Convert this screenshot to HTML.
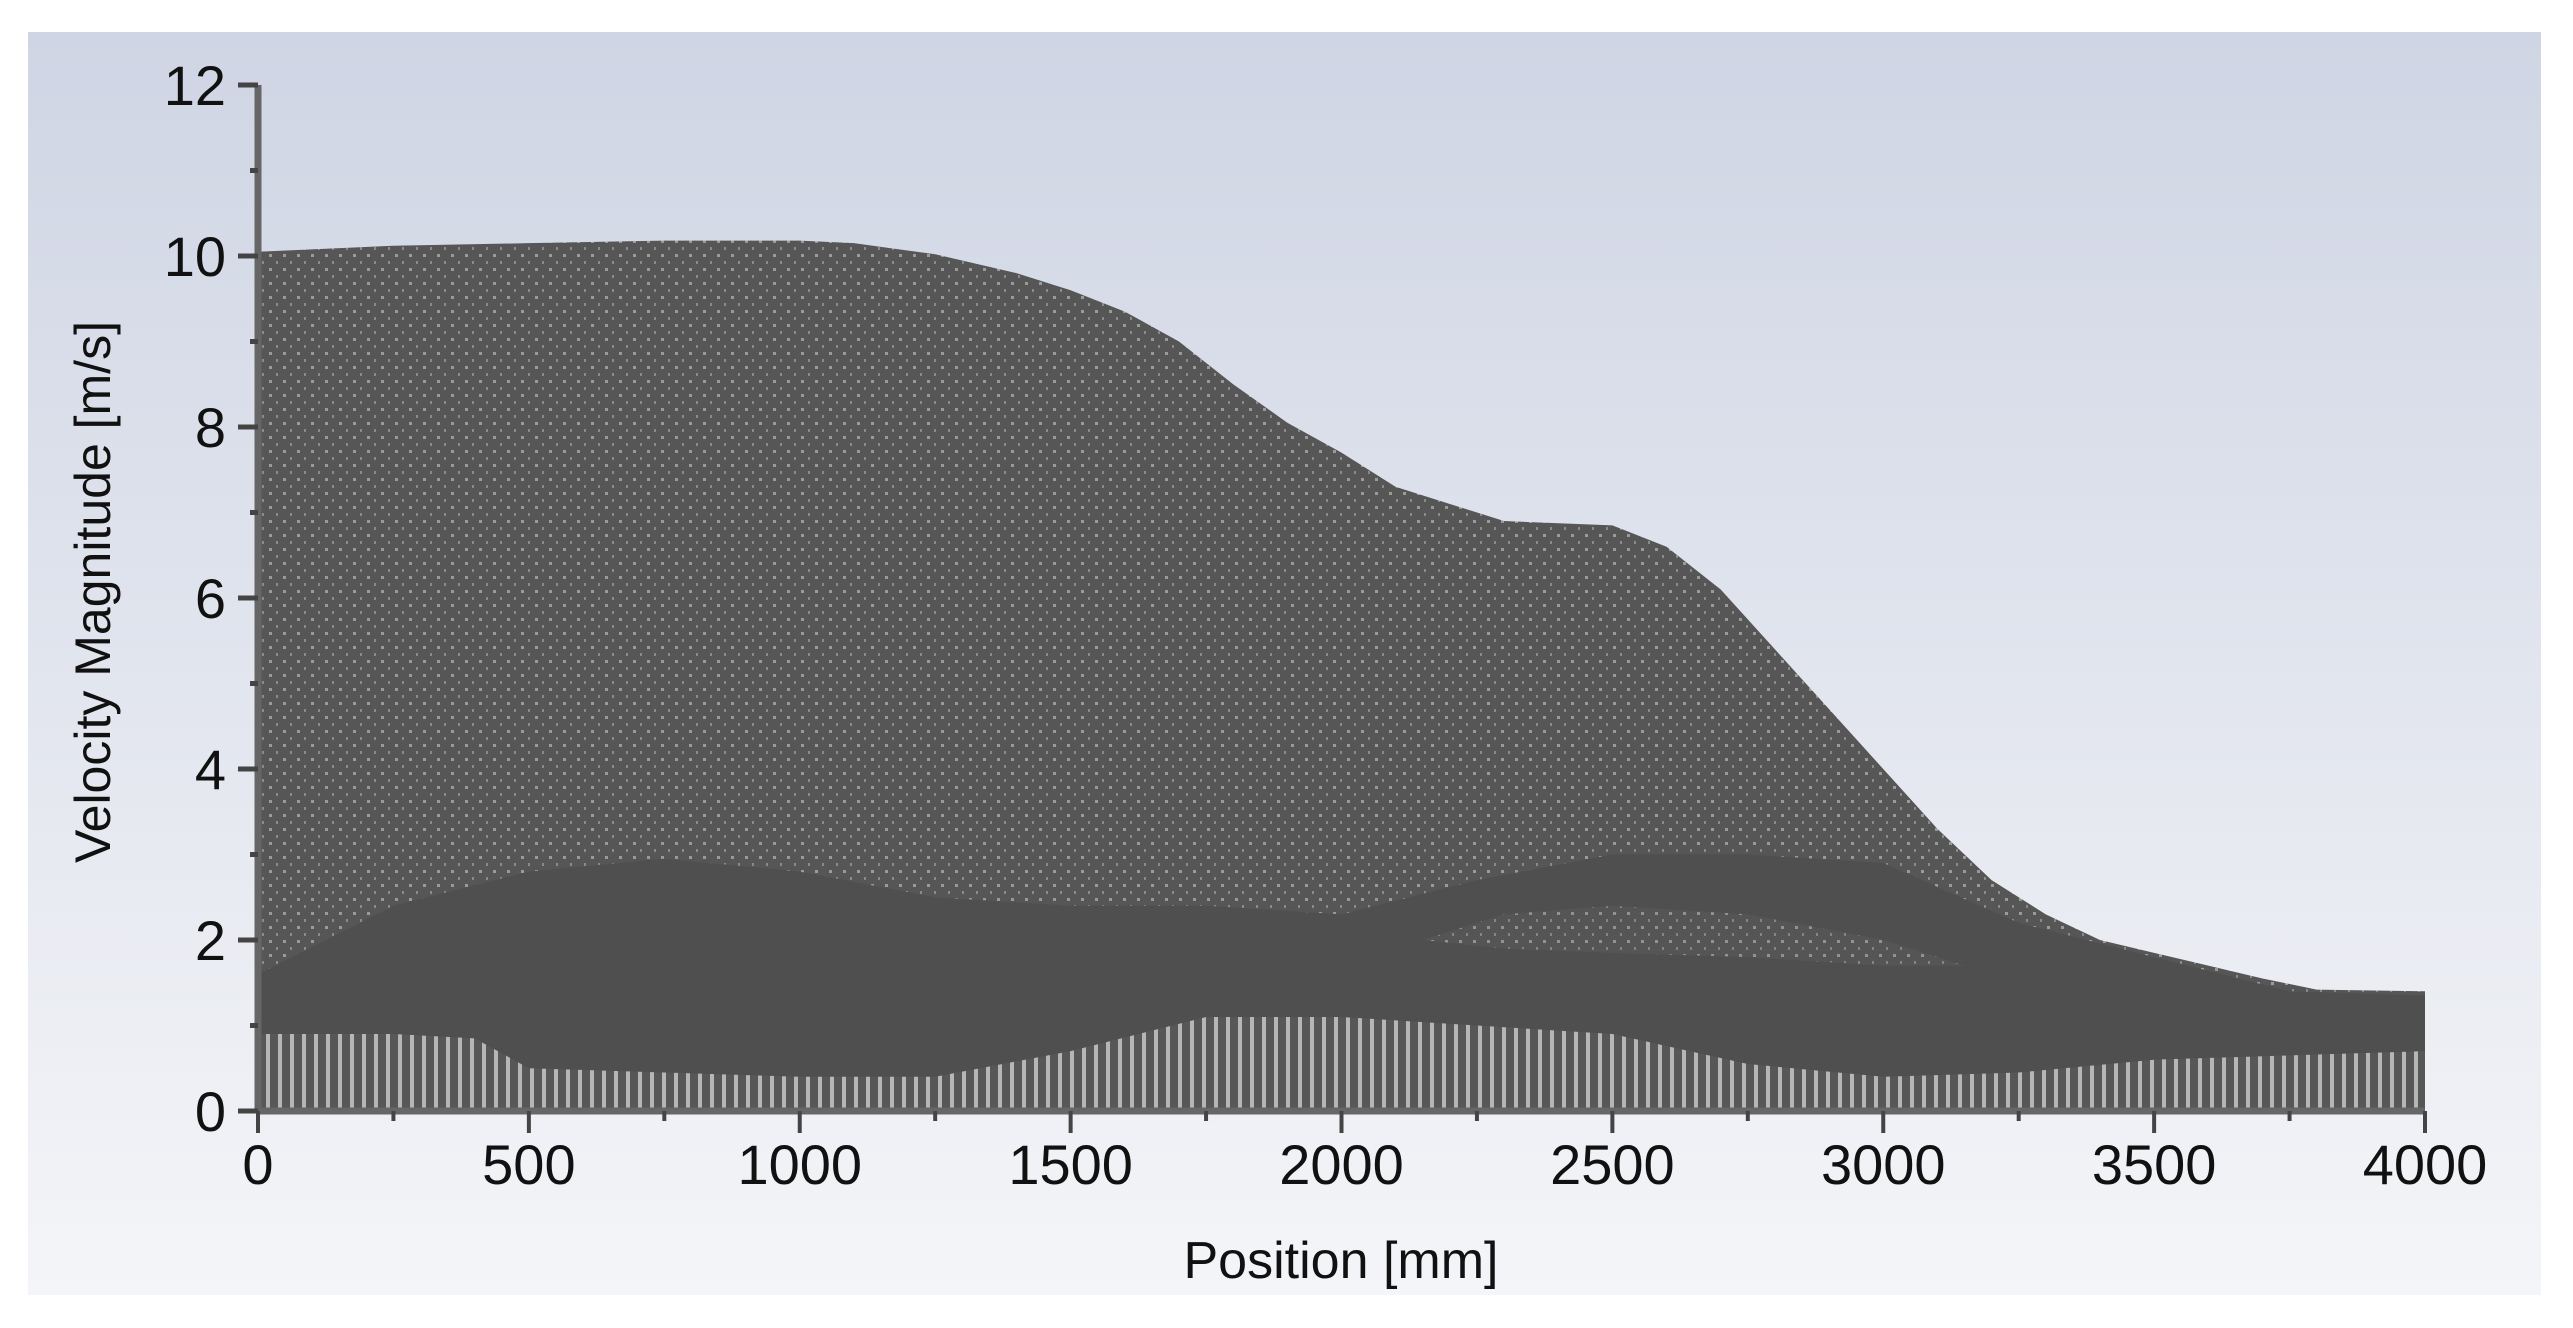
<!DOCTYPE html>
<html><head><meta charset="utf-8"><style>
html,body{margin:0;padding:0;background:#fff;}
svg{display:block;}
text{font-family:"Liberation Sans","DejaVu Sans",sans-serif;fill:#111;}
</style></head><body>
<svg id="chart" width="2573" height="1328" viewBox="0 0 2573 1328" xmlns="http://www.w3.org/2000/svg">
<defs>
<linearGradient id="bg" x1="0" y1="0" x2="0" y2="1">
<stop offset="0" stop-color="#cfd5e4"/><stop offset="1" stop-color="#f4f5f8"/>
</linearGradient>
<pattern id="stripes" width="12" height="10" patternUnits="userSpaceOnUse">
<rect width="12" height="10" fill="#5a5a5a"/><rect x="2" width="4" height="10" fill="#d8d8d8"/>
</pattern>
<pattern id="speck" width="14" height="14" patternUnits="userSpaceOnUse">
<rect width="14" height="14" fill="#565656"/><rect x="3" y="2" width="3" height="3" fill="#9a9a9a"/><rect x="10" y="9" width="2" height="3" fill="#8a8a8a"/>
</pattern>
</defs>
<rect x="28" y="32" width="2513" height="1263" fill="url(#bg)"/>
<g id="marks"></g>
<g id="axes"></g>
<text x="1341" y="1278" font-size="52" text-anchor="middle">Position [mm]</text>
<text transform="translate(110,592) rotate(-90)" font-size="50" text-anchor="middle">Velocity Magnitude [m/s]</text>
</svg>
<script>
const envX = [0,250,500,750,1000,1100,1250,1400,1500,1600,1700,1800,1900,2000,2100,2200,2300,2500,2600,2700,2800,2900,3000,3100,3200,3300,3400,3500,3600,3700,3800,4000];
const envY = [10.05,10.12,10.15,10.18,10.18,10.15,10.02,9.8,9.6,9.35,9.0,8.5,8.05,7.7,7.3,7.1,6.9,6.85,6.6,6.1,5.4,4.7,4.0,3.3,2.7,2.3,2.0,1.85,1.7,1.55,1.42,1.4];
const bandX = [0,250,500,750,1000,1250,1500,1750,2000,2250,2500,2750,3000,3250,3500,3750,4000];
const bandTop = [1.6,2.4,2.8,2.95,2.8,2.5,2.4,2.4,2.3,2.7,3.0,3.0,2.9,2.2,1.8,1.4,1.35];
const lightX = [2150,2300,2500,2750,3000,3150];
const lightTop = [2.0,2.3,2.4,2.3,2.0,1.7];
const lightBot = [2.0,1.9,1.85,1.8,1.7,1.7];
const lowX = [0,250,400,500,750,1000,1250,1500,1750,2000,2250,2500,2750,3000,3250,3500,3750,4000];
const lowY = [0.9,0.9,0.85,0.5,0.45,0.4,0.4,0.7,1.1,1.1,1.0,0.9,0.55,0.4,0.45,0.6,0.65,0.7];
const xTicks = [0,500,1000,1500,2000,2500,3000,3500,4000];
const yTicks = [0,2,4,6,8,10,12];

const X0=258, X1=2425, Y0=1111, Y1=85;
const sx = v => X0 + (v/4000)*(X1-X0);
const sy = v => Y0 - (v/12)*(Y0-Y1);
const NS='http://www.w3.org/2000/svg';
const marks=document.getElementById('marks'), axes=document.getElementById('axes');
function mk(tag, attrs, parent){const e=document.createElementNS(NS,tag);for(const k in attrs)e.setAttribute(k,attrs[k]);parent.appendChild(e);return e;}
function area(xs, ys){let d='M'+sx(xs[0])+','+sy(0);xs.forEach((x,i)=>d+=' L'+sx(x)+','+sy(ys[i]));d+=' L'+sx(xs[xs.length-1])+','+sy(0)+' Z';return d;}
function band(xs, top, bot){let d='';xs.forEach((x,i)=>d+=(i?' L':'M')+sx(x)+','+sy(top[i]));for(let i=xs.length-1;i>=0;i--)d+=' L'+sx(xs[i])+','+sy(bot[i]);return d+' Z';}

let p=mk('path',{d:area(envX,envY),fill:'url(#speck)'},marks);


p=mk('path',{d:area(bandX,bandTop),fill:'#4f4f4f'},marks);


p=mk('path',{d:band(lightX,lightTop,lightBot),fill:'url(#speck)',opacity:'0.9'},marks);


p=mk('path',{d:area(lowX,lowY),fill:'url(#stripes)',opacity:'0.75'},marks);



let l=mk('line',{x1:X0,y1:Y1,x2:X0,y2:Y0,stroke:'#666',"stroke-width":7},axes);


l=mk('line',{x1:X0,y1:Y0,x2:X1,y2:Y0,stroke:'#666',"stroke-width":7},axes);


for(let v=0;v<=12;v++){const t=mk('line',{x1:X0-(v%2?8:20),y1:sy(v),x2:X0,y2:sy(v),stroke:'#444',"stroke-width":5},axes);

}
for(let v=0;v<=4000;v+=250){const t=mk('line',{x1:sx(v),y1:Y0,x2:sx(v),y2:Y0+(v%500?10:22),stroke:'#444',"stroke-width":4},axes);

}
yTicks.forEach(v=>{const t=mk('text',{x:226,y:sy(v)+20,"font-size":56,"text-anchor":"end"},axes);t.textContent=String(v);

});
xTicks.forEach(v=>{const t=mk('text',{x:sx(v),y:1184,"font-size":56,"text-anchor":"middle"},axes);t.textContent=String(v);

});
</script>
</body></html>
